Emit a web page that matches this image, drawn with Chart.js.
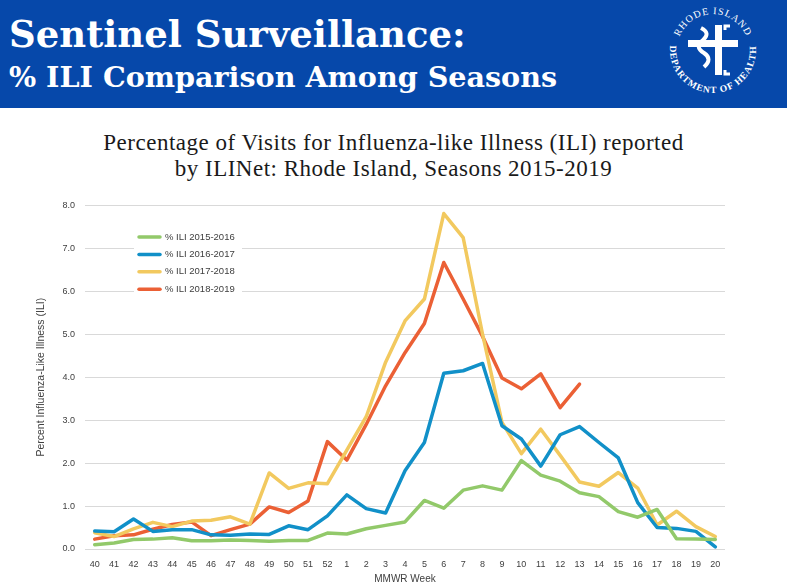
<!DOCTYPE html>
<html>
<head>
<meta charset="utf-8">
<script src="https://cdn.jsdelivr.net/npm/chart.js@4.4.1/dist/chart.umd.min.js"></script>
<style>
    body { margin: 0; width: 787px; height: 587px; overflow: hidden; background: #fff; position: relative; }
    #band { position: absolute; left: 0; top: 0; width: 787px; height: 108px; background: #0648aa; }
    #h1 { position: absolute; left: 9px; top: 14px; color: #fff; font: bold 37px/40px "DejaVu Serif", serif; white-space: nowrap; }
    #h2 { position: absolute; left: 9px; top: 61px; color: #fff; font: bold 28.6px/32px "DejaVu Serif", serif; white-space: nowrap; }
    #logo { position: absolute; left: 663px; top: 0; }
    #title { position: absolute; left: 0; top: 130px; width: 787px; text-align: center; color: #1a1a1a;
             font: 23px/26px "Liberation Serif", serif; letter-spacing: 0.5px; }
    #wrap { position: absolute; left: 0; top: 190px; width: 787px; height: 397px; }
</style>
</head>
<body>
<div id="band"></div>
<div id="h1">Sentinel Surveillance:</div>
<div id="h2">% ILI Comparison Among Seasons</div>
<svg id="logo" width="100" height="100" viewBox="0 0 100 100">
    <defs>
        <path id="arcTop" d="M 17.4 34.8 A 36 36 0 0 1 82.6 34.8"/>
        <path id="arcBot" d="M 9.6 35.3 A 43 43 0 1 0 90.4 35.3"/>
    </defs>
    <text fill="#fff" font-family="Liberation Serif" font-size="10" letter-spacing="1">
        <textPath href="#arcTop" startOffset="50%" text-anchor="middle">RHODE ISLAND</textPath>
    </text>
    <text fill="#fff" font-family="Liberation Serif" font-weight="bold" font-size="9.5" letter-spacing="1">
        <textPath href="#arcBot" startOffset="50%" text-anchor="middle">DEPARTMENT OF HEALTH</textPath>
    </text>
    <rect x="25" y="40" width="50" height="7" fill="#fff"/>
    <rect x="52" y="25" width="7" height="50" fill="#fff"/>
    <path d="M38 28 q10 5 2 12 q-9 7 1 13 q9 6 0 14" fill="none" stroke="#fff" stroke-width="4"/>
    <path d="M62 30 v-4 h5 M62 70 v4 h5" fill="none" stroke="#fff" stroke-width="3"/>
</svg>
<div id="title">Percentage of Visits for Influenza-like Illness (ILI) reported<br>by ILINet: Rhode Island, Seasons 2015-2019</div>
<div id="wrap"><canvas id="iliChart" width="787" height="397"></canvas></div>

<script>
// MMWR weeks, 40 through 52 then 1 through 20
const weeks = ['40','41','42','43','44','45','46','47','48','49','50','51','52',
    '1','2','3','4','5','6','7','8','9','10','11','12','13','14','15','16','17','18','19','20'];

// % ILI by season
const ili1516 = [0.10,0.14,0.22,0.23,0.26,0.19,0.19,0.21,0.20,0.18,0.20,0.20,0.37,
    0.35,0.47,0.55,0.63,1.13,0.95,1.37,1.47,1.37,2.06,1.72,1.58,1.31,1.22,0.87,0.74,0.92,0.24,0.23,0.22];
const ili1617 = [0.42,0.40,0.70,0.41,0.45,0.45,0.33,0.32,0.35,0.34,0.54,0.45,0.77,
    1.26,0.94,0.84,1.82,2.48,4.09,4.15,4.32,2.87,2.56,1.93,2.66,2.85,2.48,2.12,1.08,0.50,0.48,0.41,0.05];
const ili1718 = [0.38,0.29,0.47,0.62,0.52,0.65,0.67,0.75,0.58,1.77,1.41,1.54,1.52,
    2.30,3.08,4.35,5.31,5.82,7.81,7.25,5.00,2.95,2.22,2.79,2.18,1.56,1.46,1.78,1.42,0.56,0.88,0.52,0.29];
// 2018-2019 season only reported through week 13
const ili1819 = [0.23,0.31,0.33,0.46,0.57,0.63,0.31,0.45,0.58,0.98,0.85,1.12,2.50,
    2.07,2.90,3.80,4.57,5.25,6.67,5.82,4.95,3.98,3.73,4.08,3.29,3.84,null,null,null,null,null,null,null];

const yTicks = [0,1,2,3,4,5,6,7,8];

const seriesLabels = ['% ILI 2015-2016','% ILI 2016-2017','% ILI 2017-2018','% ILI 2018-2019'];
const seriesColors = ['#92c96a','#1190c8','#f2c95f','#eb6035'];

const FONT = '"Liberation Sans", sans-serif';
const TXT = '#404040';

// legend drawn inside the plot, upper left, on a white box
const insideLegend = {
    id: 'insideLegend',
    afterDraw(chart) {
        const ctx = chart.ctx;
        ctx.save();
        ctx.fillStyle = '#fff';
        ctx.fillRect(134, 38, 108, 70);
        ctx.font = '9.5px ' + FONT;
        ctx.textBaseline = 'middle';
        chart.data.datasets.forEach(function(ds, i) {
            const y = 47 + i * 17.4;
            ctx.strokeStyle = ds.borderColor;
            ctx.lineWidth = 3.5;
            ctx.lineCap = 'round';
            ctx.beginPath();
            ctx.moveTo(139, y);
            ctx.lineTo(160, y);
            ctx.stroke();
            ctx.fillStyle = TXT;
            ctx.fillText(ds.label, 165, y);
        });
        ctx.restore();
    }
};

function initChart() {
    const ctx = document.getElementById('iliChart').getContext('2d');
    const allData = [ili1516, ili1617, ili1718, ili1819];

    new Chart(ctx, {
        type: 'line',
        data: {
            labels: weeks,
            datasets: allData.map(function(d, i) {
                return {
                    label: seriesLabels[i],
                    data: d,
                    borderColor: seriesColors[i],
                    backgroundColor: seriesColors[i],
                    spanGaps: false
                };
            })
        },
        options: {
            responsive: false,
            animation: false,
            layout: { padding: { left: 0, right: 62, top: 14, bottom: 0 } },
            elements: {
                point: { radius: 0 },
                line: { borderWidth: 3.5, tension: 0, borderJoinStyle: 'round', borderCapStyle: 'round' }
            },
            plugins: {
                legend: { display: false },
                tooltip: { enabled: false }
            },
            scales: {
                x: {
                    offset: true,
                    grid: { display: false, drawTicks: false },
                    border: { display: false },
                    ticks: { color: TXT, font: { size: 9, family: FONT }, padding: 10, maxRotation: 0, autoSkip: false },
                    title: { display: true, text: 'MMWR Week', color: TXT, font: { size: 10, family: FONT }, padding: { top: 0, bottom: 2 } },
                    afterFit(scale) { scale.height = 38; }
                },
                y: {
                    min: 0,
                    max: 8,
                    afterBuildTicks(scale) { scale.ticks = yTicks.map(v => ({ value: v })); },
                    grid: { color: '#d9d9d9', lineWidth: 1, drawTicks: false },
                    border: { display: false },
                    ticks: { color: TXT, font: { size: 9, family: FONT }, padding: 10, callback: v => v.toFixed(1) },
                    title: { display: true, text: 'Percent Influenza-Like Illness (ILI)', color: TXT,
                             font: { size: 10.5, family: FONT }, padding: { top: 35, bottom: 0 } },
                    afterFit(scale) { scale.width = 85; }
                }
            }
        },
        plugins: [insideLegend]
    });
}

document.addEventListener('DOMContentLoaded', initChart);
</script>
</body>
</html>
